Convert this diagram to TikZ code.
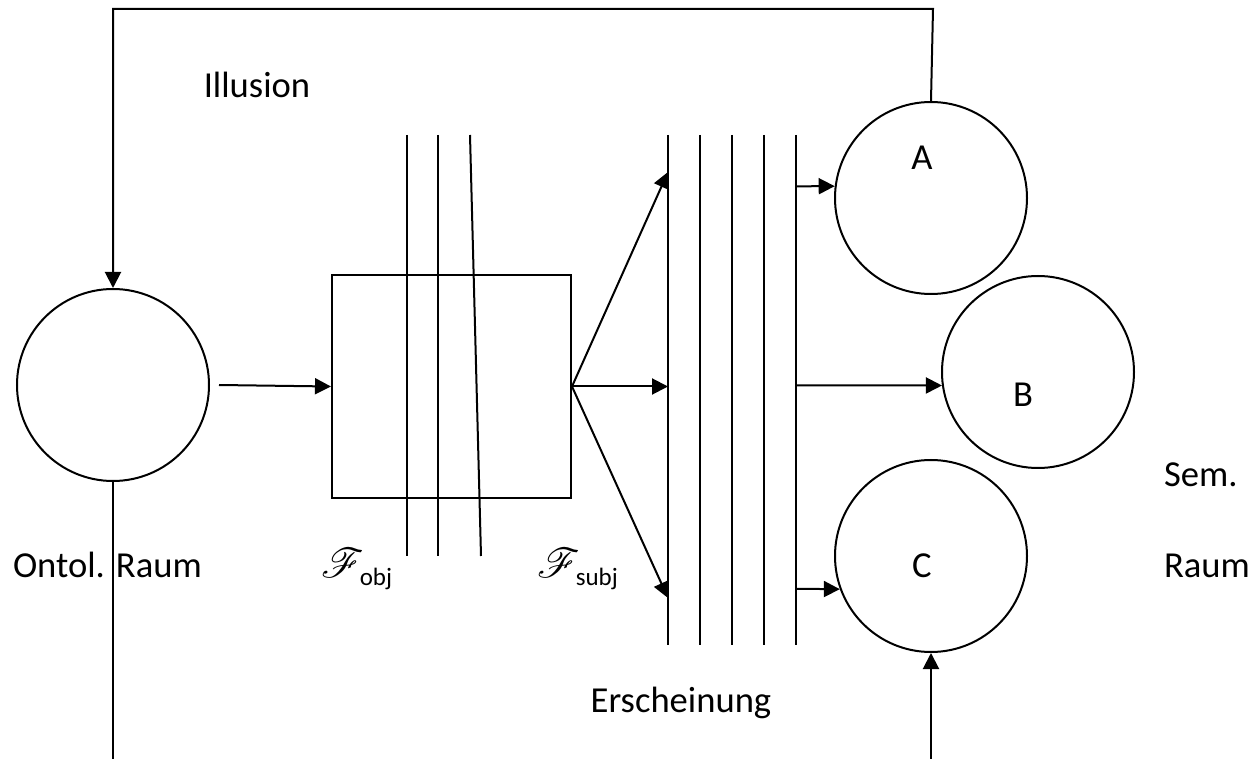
\documentclass[tikz,border=0pt]{standalone}
\usepackage{fontspec}
\setmainfont{Carlito}
\usepackage{mathrsfs}
\usetikzlibrary{arrows.meta}
\begin{document}
\begin{tikzpicture}[x=0.5pt,y=-0.5pt, line width=1pt,
  circ/.style={draw,circle,minimum size=96pt,inner sep=0pt},
  lbl/.style={font=\fontsize{18.3}{22}\selectfont, inner sep=0pt},
  flbl/.style={font=\fontsize{22}{26}\selectfont, inner sep=0pt},
  arr/.style={-{Triangle[length=8pt,width=8pt]}}]
\useasboundingbox (0,0) rectangle (1260,759);
% shapes
\node[circ] (L) at (113,385) {};
\node[draw, minimum width=119.5pt, minimum height=111.5pt, inner sep=0pt] (box) at (451.5,386.5) {};
\node[circ] (A) at (931,198) {};
\node[circ] (B) at (1038,372) {};
\node[circ] (C) at (931,556) {};
% filter lines through the box
\draw (407,135) -- (407,556);
\draw (438,135) -- (438,556);
\draw (470,135) -- (481,556);
% five bars
\foreach \x in {668,700,732,764,796} \draw (\x,135) -- (\x,645);
% labels
\node[lbl, anchor=base] (la) at (922,170) {A};
\node[lbl, anchor=base] (lb) at (1023,407) {B};
\node[lbl, anchor=base] (lc) at (922,577) {C};
\node[lbl, anchor=base] (ill) at (257,98) {Illusion};
\node[lbl, anchor=base west] (ont) at (12,577) {Ontol. Raum};
\node[lbl, anchor=base] (ers) at (681,712) {Erscheinung};
\node[lbl, anchor=base west] (sem) at (1163,487) {Sem.};
\node[lbl, anchor=base west] (raum) at (1163,577) {Raum};
\node[flbl, anchor=base west] (fobj) at (320,577) {$\mathscr{F}$\kern-2pt\raisebox{-4pt}{\fontsize{12.5}{14}\selectfont obj}};
\node[flbl, anchor=base west] (fsubj) at (536,577) {$\mathscr{F}$\kern-2pt\raisebox{-4pt}{\fontsize{12.5}{14}\selectfont subj}};
% connectors
\draw[arr] ([xshift=4.5pt]L.east) -- (box.west);
\coordinate (f1) at (668,172);
\coordinate (f2) at (668,386.5);
\coordinate (f3) at (668,598);
\draw[arr] (box.east) -- (f1);
\draw[arr] (box.east) -- (f2);
\draw[arr] (box.east) -- (f3);
\coordinate (pA) at (796,186.3);
\coordinate (pB) at (796,385.4);
\coordinate (pC) at (796,588.8);
\draw[arr] (pA) -- (A.173);
\draw[arr] (pB) -- (B.188);
\draw[arr] (pC) -- (C.200);
\coordinate (tr) at (933,9);
\coordinate (tl) at (113,9);
\draw[arr] (A.north) -- (tr) -- (tl) -- (L.north);
\coordinate (bl) at (113,759);
\draw (L.south) -- (bl);
\coordinate (br) at (931,759);
\draw[arr] (br) -- (C.south);
\end{tikzpicture}
\end{document}
